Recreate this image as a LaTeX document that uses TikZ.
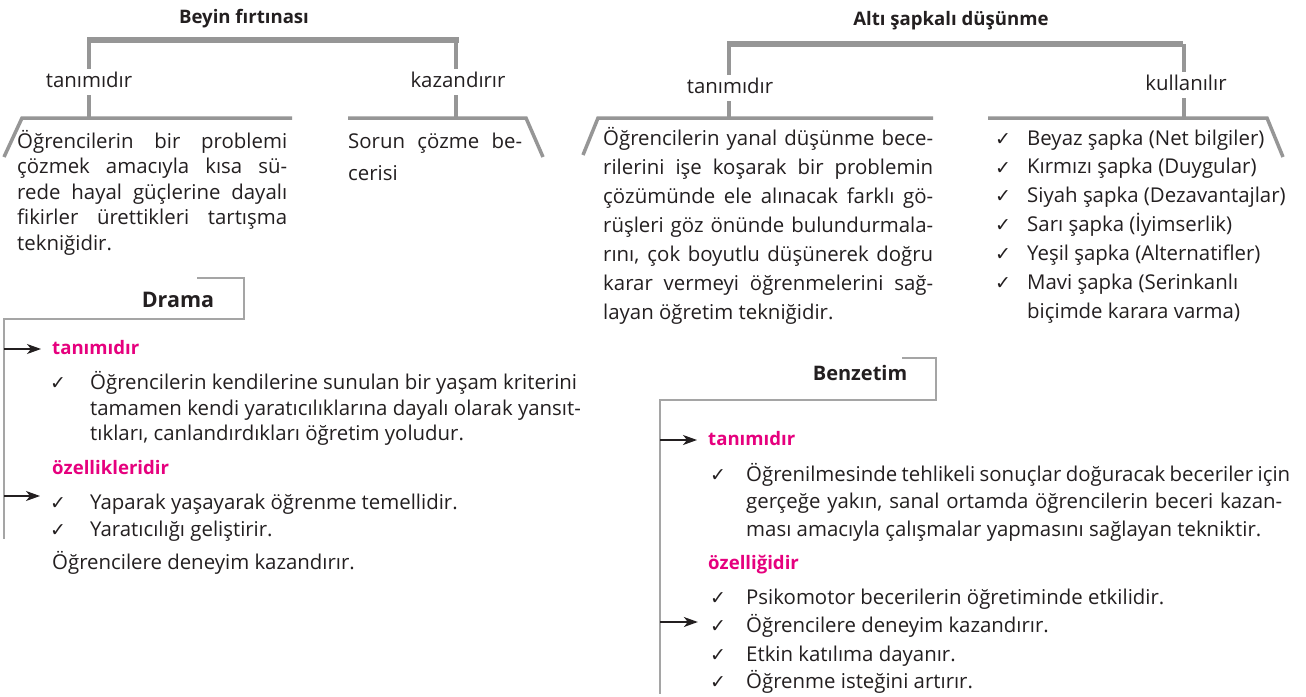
\documentclass[tikz,border=0pt]{standalone}
\usepackage{fontspec}
\setmainfont{Open Sans}
\newfontfamily\symfont{DejaVu Sans}
\usetikzlibrary{arrows.meta}
\definecolor{bargray}{RGB}{150,150,150}
\definecolor{boxgray}{RGB}{165,165,165}
\definecolor{mag}{RGB}{230,0,126}
\definecolor{ink}{RGB}{35,31,32}
\begin{document}
\begin{tikzpicture}[x=1pt,y=-1pt,
 txt/.style={anchor=west, inner sep=0pt, text height=15pt, text depth=4.5pt, font=\fontsize{20.4}{24}\selectfont, text=ink},
 ttl/.style={inner sep=0pt, text height=15pt, text depth=4.5pt, font=\bfseries\fontsize{18.6}{22}\selectfont, text=ink},
 lbl/.style={fill=white, inner sep=3pt, text height=15pt, text depth=4.5pt, font=\fontsize{20.4}{24}\selectfont, text=ink},
 hd/.style={txt, font=\bfseries\fontsize{18.6}{22}\selectfont, text=mag},
 chk/.style={inner sep=0pt, font=\symfont\fontsize{19}{21}\selectfont, text=ink},
 bar/.style={draw=bargray, line width=6pt},
 stem/.style={draw=bargray, line width=3.5pt},
 frame/.style={draw=boxgray, line width=1.3pt},
 arr/.style={draw=ink, line width=1.3pt, -{Stealth[length=14pt,width=10pt,inset=4pt]}}
]
\fill[white] (0,0) rectangle (1306,696);
\useasboundingbox (0,0) rectangle (1306,696);

% ---------- Beyin fırtınası ----------
\coordinate (bA) at (87,40);
\coordinate (bB) at (459,40);
\coordinate (bL) at (89,40);
\coordinate (bLd) at (89,118);
\coordinate (bR) at (456,40);
\coordinate (bRd) at (456,118);
\coordinate (tL1) at (4,157);
\coordinate (tL2) at (22,118);
\coordinate (tL3) at (292,118);
\coordinate (tR1) at (348,118);
\coordinate (tR2) at (526,118);
\coordinate (tR3) at (543,157);
\draw[bar] (bA) -- (bB);
\draw[stem] (bL) -- (bLd);
\draw[stem] (bR) -- (bRd);
\draw[stem] (tL1) -- (tL2) -- (tL3);
\draw[stem] (tR1) -- (tR2) -- (tR3);
\node[ttl] (bt) at (244,18) {Beyin fırtınası};
\node[lbl] (bl1) at (89,82) {tanımıdır};
\node[lbl] (bl2) at (458,82) {kazandırır};
\node[txt] (bp1) at (17,143) {\makebox[270pt][s]{Öğrencilerin bir problemi}};
\node[txt] (bp2) at (17,168.5) {\makebox[270pt][s]{çözmek amacıyla kısa sü-}};
\node[txt] (bp3) at (17,194) {\makebox[270pt][s]{rede hayal güçlerine dayalı}};
\node[txt] (bp4) at (17,219.5) {\makebox[270pt][s]{fikirler ürettikleri tartışma}};
\node[txt] (bp5) at (17,245) {tekniğidir.};
\node[txt] (bq1) at (348,143) {\makebox[174pt][s]{Sorun çözme be-}};
\node[txt] (bq2) at (348,175) {cerisi};

% ---------- Altı şapkalı düşünme ----------
\coordinate (aA) at (727,44);
\coordinate (aB) at (1183,44);
\coordinate (aL) at (729,44);
\coordinate (aLd) at (729,118);
\coordinate (aR) at (1184,44);
\coordinate (aRd) at (1184,118);
\coordinate (uL1) at (583,155);
\coordinate (uL2) at (598,118);
\coordinate (uL3) at (933,118);
\coordinate (uR1) at (988,118);
\coordinate (uR2) at (1267,118);
\coordinate (uR3) at (1283,157);
\draw[bar] (aA) -- (aB);
\draw[stem] (aL) -- (aLd);
\draw[stem] (aR) -- (aRd);
\draw[stem] (uL1) -- (uL2) -- (uL3);
\draw[stem] (uR1) -- (uR2) -- (uR3);
\node[ttl] (at) at (951,20) {Altı şapkalı düşünme};
\node[lbl] (al1) at (730,88) {tanımıdır};
\node[lbl] (al2) at (1186,85) {kullanılır};
\node[txt] (ap1) at (603,140) {\makebox[330pt][s]{Öğrencilerin yanal düşünme bece-}};
\node[txt] (ap2) at (603,169) {\makebox[330pt][s]{rilerini işe koşarak bir problemin}};
\node[txt] (ap3) at (603,198) {\makebox[330pt][s]{çözümünde ele alınacak farklı gö-}};
\node[txt] (ap4) at (603,227) {\makebox[330pt][s]{rüşleri göz önünde bulundurmala-}};
\node[txt] (ap5) at (603,256) {\makebox[330pt][s]{rını, çok boyutlu düşünerek doğru}};
\node[txt] (ap6) at (603,285) {\makebox[330pt][s]{karar vermeyi öğrenmelerini sağ-}};
\node[txt] (ap7) at (603,314) {layan öğretim tekniğidir.};
\node[chk] (ac1) at (1003,140) {✓};
\node[chk] (ac2) at (1003,168.5) {✓};
\node[chk] (ac3) at (1003,197) {✓};
\node[chk] (ac4) at (1003,226) {✓};
\node[chk] (ac5) at (1003,255) {✓};
\node[chk] (ac6) at (1003,284) {✓};
\node[txt] (aq1) at (1027,140) {Beyaz şapka (Net bilgiler)};
\node[txt] (aq2) at (1027,168.5) {Kırmızı şapka (Duygular)};
\node[txt] (aq3) at (1027,197) {Siyah şapka (Dezavantajlar)};
\node[txt] (aq4) at (1027,226) {Sarı şapka (İyimserlik)};
\node[txt] (aq5) at (1027,255) {Yeşil şapka (Alternatifler)};
\node[txt] (aq6) at (1027,284) {Mavi şapka (Serinkanlı};
\node[txt] (aq7) at (1027,313) {biçimde karara varma)};

% ---------- Drama ----------
\coordinate (d1) at (197,278);
\coordinate (d2) at (244,278);
\coordinate (d3) at (244,319);
\coordinate (d4) at (4,319);
\coordinate (d5) at (4,539);
\coordinate (da1) at (4,349);
\coordinate (da2) at (4,496);
\draw[frame] (d1) -- (d2) -- (d3) -- (d4) -- (d5);
\node[ttl, font=\bfseries\fontsize{21.5}{24}\selectfont] (dt) at (178,302) {Drama};
\node[hd] (dh1) at (52,349) {tanımıdır};
\node[hd] (dh2) at (52,469) {özellikleridir};
\draw[arr] (da1) -- ([xshift=-11pt]dh1.west);
\draw[arr] (da2) -- ([xshift=-12pt]da2 -| dh2.west);
\node[chk] (dc1) at (58,384) {✓};
\node[txt] (di1) at (90,384) {Öğrencilerin kendilerine sunulan bir yaşam kriterini};
\node[txt] (di2) at (90,410) {tamamen kendi yaratıcılıklarına dayalı olarak yansıt-};
\node[txt] (di3) at (90,435) {tıkları, canlandırdıkları öğretim yoludur.};
\node[chk] (dc2) at (58,504) {✓};
\node[chk] (dc3) at (58,531) {✓};
\node[txt] (dj1) at (90,504) {Yaparak yaşayarak öğrenme temellidir.};
\node[txt] (dj2) at (90,531) {Yaratıcılığı geliştirir.};
\node[txt] (dk) at (52,564) {Öğrencilere deneyim kazandırır.};

% ---------- Benzetim ----------
\coordinate (e1) at (902,358);
\coordinate (e2) at (936,358);
\coordinate (e3) at (936,400);
\coordinate (e4) at (660,400);
\coordinate (e5) at (660,694);
\coordinate (ea1) at (660,440);
\coordinate (ea2) at (660,622);
\draw[frame] (e1) -- (e2) -- (e3) -- (e4) -- (e5);
\node[ttl, font=\bfseries\fontsize{20}{24}\selectfont] (et) at (860,375) {Benzetim};
\node[hd] (eh1) at (708,440) {tanımıdır};
\node[hd] (eh2) at (708,564) {özelliğidir};
\draw[arr] (ea1) -- ([xshift=-11pt]eh1.west);
\node[chk] (ec1) at (718,476) {✓};
\node[txt] (ei1) at (746,476) {\makebox[544pt][s]{Öğrenilmesinde tehlikeli sonuçlar doğuracak beceriler için}};
\node[txt] (ei2) at (746,503.5) {\makebox[536pt][s]{gerçeğe yakın, sanal ortamda öğrencilerin beceri kazan-}};
\node[txt] (ei3) at (746,531) {ması amacıyla çalışmalar yapmasını sağlayan tekniktir.};
\node[chk] (ec2) at (718,599) {✓};
\node[chk] (ec3) at (718,627) {✓};
\node[chk] (ec4) at (718,656) {✓};
\node[chk] (ec5) at (718,683) {✓};
\node[txt] (ej1) at (746,599) {Psikomotor becerilerin öğretiminde etkilidir.};
\node[txt] (ej2) at (746,627) {Öğrencilere deneyim kazandırır.};
\node[txt] (ej3) at (746,656) {Etkin katılıma dayanır.};
\node[txt] (ej4) at (746,683) {Öğrenme isteğini artırır.};
\draw[arr] (ea2) -- ([xshift=-12pt]ea2 -| ec3.west);
\end{tikzpicture}
\end{document}
